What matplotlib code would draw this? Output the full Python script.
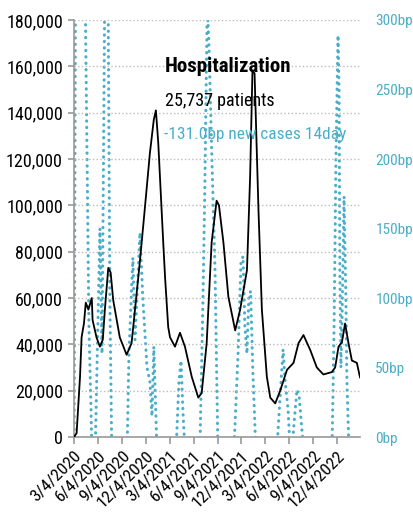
import numpy as np
import pandas as pd
import matplotlib
matplotlib.use("Agg")
import matplotlib.pyplot as plt
from matplotlib import font_manager

# Hospitalized patients (left axis)
hosp_dates = [
    "2020-03-04", "2020-03-14", "2020-03-27", "2020-04-02", "2020-04-11", "2020-04-18",
    "2020-04-28", "2020-05-11", "2020-05-14", "2020-05-29", "2020-06-11", "2020-06-22",
    "2020-06-30", "2020-07-13", "2020-07-22", "2020-08-01", "2020-08-26", "2020-09-21",
    "2020-10-10", "2020-11-11", "2020-11-30", "2020-12-19", "2021-01-03", "2021-01-11",
    "2021-01-20", "2021-02-08", "2021-02-15", "2021-02-27", "2021-03-06", "2021-03-25",
    "2021-04-13", "2021-05-02", "2021-05-28", "2021-06-22", "2021-07-05", "2021-07-24",
    "2021-08-12", "2021-08-31", "2021-09-09", "2021-09-26", "2021-10-15", "2021-11-10",
    "2021-11-29", "2021-12-25", "2022-01-06", "2022-01-15", "2022-01-23", "2022-02-07",
    "2022-02-20", "2022-03-11", "2022-03-24", "2022-04-12", "2022-05-01", "2022-05-27",
    "2022-06-21", "2022-07-10", "2022-07-29", "2022-08-24", "2022-09-18", "2022-10-13",
    "2022-11-14", "2022-11-27", "2022-12-10", "2022-12-23", "2023-01-04", "2023-01-17",
    "2023-01-30", "2023-02-18", "2023-03-02",
]
hosp_values = [
    0, 1700, 26000, 43000, 49000, 58000,
    55000, 60000, 50500, 43000, 39000, 42000,
    55000, 73000, 71000, 59000, 43000, 35500,
    40500, 76000, 99000, 122500, 137000, 141000,
    127000, 84000, 69000, 47500, 43000, 39000,
    45000, 39000, 26000, 17000, 19000, 40500,
    84000, 102000, 100000, 84000, 60500, 46000,
    55000, 72000, 112000, 158000, 157000, 98000,
    55000, 26000, 17000, 14500, 20000, 29000,
    32000, 40500, 44000, 37500, 30000, 27000,
    28000, 30000, 39000, 41000, 49000, 40500,
    33000, 32000, 25737,
]

# New cases, 14 day change in bp (right axis)
cases_dates = [
    "2020-03-04", "2020-03-10", "2020-04-15", "2020-04-23", "2020-04-30", "2020-05-08",
    "2020-05-12", "2020-05-23", "2020-06-11", "2020-06-19", "2020-06-30", "2020-07-12",
    "2020-07-19", "2020-07-27", "2020-09-22", "2020-09-30", "2020-10-15", "2020-10-23",
    "2020-11-11", "2020-11-22", "2020-12-08", "2020-12-19", "2020-12-27", "2021-01-03",
    "2021-01-15", "2021-03-29", "2021-04-09", "2021-04-17", "2021-04-24", "2021-05-02",
    "2021-06-28", "2021-07-10", "2021-07-17", "2021-07-25", "2021-07-29", "2021-08-02",
    "2021-08-13", "2021-08-25", "2021-09-05", "2021-11-05", "2021-11-21", "2021-12-02",
    "2021-12-10", "2021-12-17", "2021-12-25", "2022-01-01", "2022-01-08", "2022-01-16",
    "2022-01-28", "2022-04-18", "2022-05-01", "2022-05-12", "2022-05-20", "2022-05-31",
    "2022-06-07", "2022-06-15", "2022-06-23", "2022-07-04", "2022-07-12", "2022-07-23",
    "2022-07-31", "2022-11-15", "2022-11-23", "2022-11-30", "2022-12-08", "2022-12-12",
    "2022-12-15", "2022-12-19", "2022-12-23", "2022-12-31", "2023-01-07", "2023-01-11",
    "2023-01-19", "2023-03-02",
]
cases_bp = [
    -50, 350, 330, 200, 80, 20,
    -20, -20, 150, 60, 330, 330,
    100, -20, -20, 60, 129, 70,
    147, 100, 50, 40, 15, 65,
    -10, -10, 40, 55, 20, -10,
    -10, 100, 180, 295, 300, 280,
    200, 120, -10, -10, 60, 125,
    130, 80, 60, 100, 105, 50,
    -10, -10, 30, 63, 40, 20,
    -5, -10, 10, 34, 30, 5,
    -10, -10, 80, 200, 289, 250,
    120, 50, 80, 173, 100, 40,
    -10, -131,
]

tick_dates = ["2020-03-04", "2020-06-04", "2020-09-04", "2020-12-04",
              "2021-03-04", "2021-06-04", "2021-09-04", "2021-12-04",
              "2022-03-04", "2022-06-04", "2022-09-04", "2022-12-04"]

BLUE = "#4aaec8"
GRAY = "#999999"

# pick a condensed face if one is installed
names = {f.name for f in font_manager.fontManager.ttflist}
candidates = ["Roboto Condensed", "Archivo Narrow", "PT Sans Narrow", "Fira Sans Condensed",
              "IBM Plex Sans Condensed", "Liberation Sans Narrow", "Barlow Condensed"]
base = next((c for c in candidates if c in names), "DejaVu Sans")
plt.rcParams["font.family"] = [base, "DejaVu Sans"]

fig = plt.figure(figsize=(4.14, 5.23), dpi=100)
ax = fig.add_axes([74 / 414, 1 - 437 / 523, 286 / 414, 417 / 523])
ax2 = ax.twinx()

hd = pd.to_datetime(hosp_dates)
cd = pd.to_datetime(cases_dates)

ax2.plot(cd, cases_bp, color=BLUE, lw=2.2, linestyle=(0, (0.1, 2.0)),
         dash_capstyle="round", solid_capstyle="round")
ax.plot(hd, hosp_values, color="black", lw=1.3, zorder=3)
ax.set_zorder(ax2.get_zorder() + 1)
ax.patch.set_visible(False)

ax.set_ylim(0, 180000)
ax2.set_ylim(0, 300)
ax.set_xlim(pd.Timestamp("2020-03-04"), pd.Timestamp("2023-03-02"))

ax.set_yticks(np.arange(0, 180001, 20000))
ax.set_yticklabels([f"{v:,}" for v in range(0, 180001, 20000)])
ax2.set_yticks(np.arange(0, 301, 50))
ax2.set_yticklabels([f"{v}bp" for v in range(0, 301, 50)])

td = pd.to_datetime(tick_dates)
ax.set_xticks(td)
ax.set_xticklabels([f"{d.month}/{d.day}/{d.year}" for d in td],
                   rotation=45, ha="right", rotation_mode="anchor")

ax.grid(axis="y", color="#bbbbbb", linestyle=":", lw=1.0)
for a in (ax, ax2):
    a.spines["top"].set_visible(False)
    a.spines["right"].set_visible(False)
ax2.spines["left"].set_visible(False)
ax2.spines["bottom"].set_visible(False)
ax.spines["left"].set_color(GRAY)
ax.spines["bottom"].set_color(GRAY)
ax.spines["left"].set_linewidth(1.2)
ax.spines["bottom"].set_linewidth(1.2)

ax.tick_params(axis="y", colors=GRAY, labelcolor="black", labelsize=13, length=4, width=1.2, pad=4)
ax.tick_params(axis="x", colors=GRAY, labelcolor="black", labelsize=12.5, length=5, width=1.2, pad=3)
ax2.tick_params(axis="y", length=0, labelcolor=BLUE, labelsize=11, pad=11)

fig.text(165 / 414, 1 - 72 / 523, "Hospitalization", fontsize=15, fontweight="bold",
         color="black", va="baseline")
fig.text(165 / 414, 1 - 106 / 523, "25,737 patients", fontsize=13,
         color="black", va="baseline")
fig.text(164 / 414, 1 - 139 / 523, "-131.0bp new cases 14day", fontsize=12.5,
         color=BLUE, va="baseline")

fig.savefig("out.png", dpi=100)
